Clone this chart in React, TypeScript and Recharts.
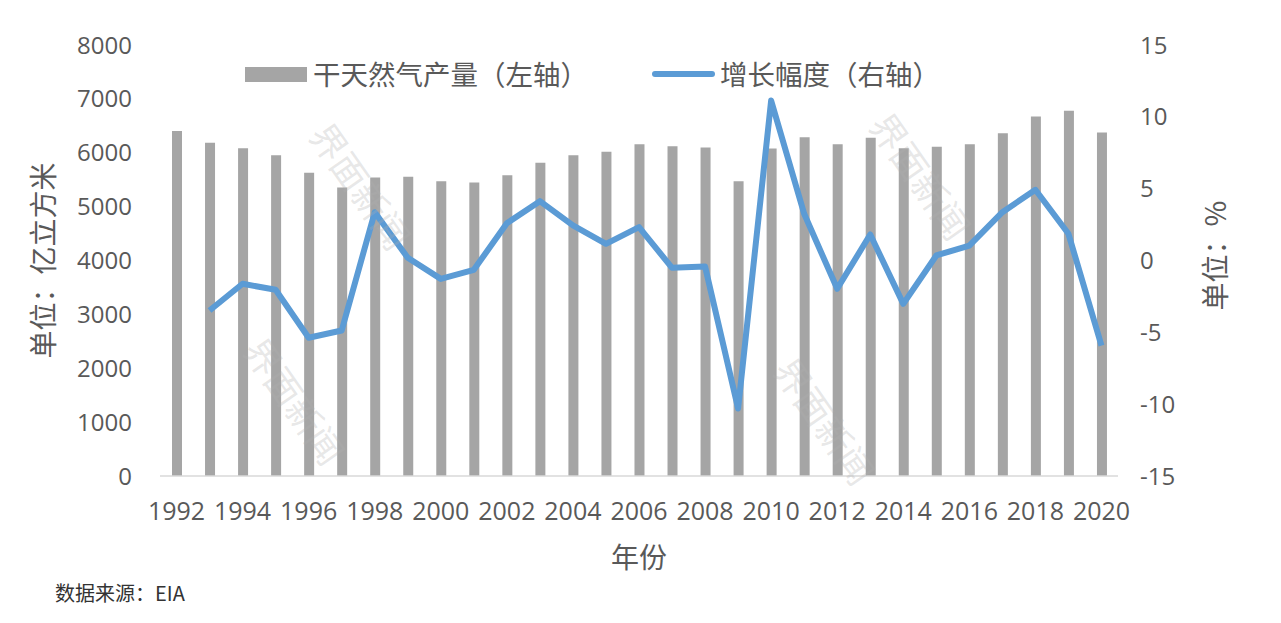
import React from 'react';
import { ComposedChart, Bar, Line, XAxis, YAxis } from 'recharts';

const years = [
  '1992', '1993', '1994', '1995', '1996', '1997', '1998', '1999', '2000', '2001',
  '2002', '2003', '2004', '2005', '2006', '2007', '2008', '2009', '2010', '2011',
  '2012', '2013', '2014', '2015', '2016', '2017', '2018', '2019', '2020',
];
// 干天然气产量（亿立方米）
const output = [
  6406, 6184, 6085, 5955, 5627, 5356, 5542, 5553, 5473, 5448,
  5584, 5813, 5955, 6017, 6160, 6122, 6098, 5473, 6079, 6289,
  6160, 6277, 6085, 6110, 6160, 6364, 6673, 6778, 6377,
];
// 增长幅度（%）
const growth: (number | null)[] = [
  null, -3.48, -1.62, -2.04, -5.38, -4.87, 3.36, 0.19, -1.28, -0.65,
  2.6, 4.13, 2.44, 1.16, 2.32, -0.51, -0.42, -10.3, 11.13, 3.25,
  -1.97, 1.81, -3.02, 0.35, 1.04, 3.36, 4.92, 1.86, -5.92,
];
const leftTicks = [0, 1000, 2000, 3000, 4000, 5000, 6000, 7000, 8000];
const rightTicks = [-15, -10, -5, 0, 5, 10, 15];

const data = years.map((y, i) => ({ year: y, output: output[i], growth: growth[i] }));

const FONT = '"Open Sans", "Noto Sans CJK SC", sans-serif';
const CJK = '"Noto Sans CJK SC", sans-serif';
const GREY_TEXT = '#595959';

const watermarks = [
  { x: 362, y: 185 },
  { x: 296, y: 400 },
  { x: 922, y: 175 },
  { x: 826, y: 420 },
];

function LegendBox() {
  return (
    <div style={{ position: 'absolute', left: 0, top: 58, width: 1281, height: 40, fontFamily: CJK, fontSize: 27.5, color: GREY_TEXT }}>
      <div style={{ position: 'absolute', left: 245, top: 9, width: 62, height: 15, background: '#a5a5a5' }} />
      <div style={{ position: 'absolute', left: 313, top: -5, whiteSpace: 'nowrap' }}>干天然气产量（左轴）</div>
      <div style={{ position: 'absolute', left: 652, top: 13, width: 63, height: 6, borderRadius: 3, background: '#5b9bd5' }} />
      <div style={{ position: 'absolute', left: 720, top: -5, whiteSpace: 'nowrap' }}>增长幅度（右轴）</div>
    </div>
  );
}

export default function App() {
  return (
    <div style={{ position: 'absolute', left: 0, top: 0, width: 1281, height: 623, background: '#fff' }}>
      <ComposedChart
        width={1281}
        height={623}
        data={data}
        margin={{ top: 45, right: 0, bottom: 0, left: 0 }}
        barSize={10}
      >
        <XAxis
          dataKey="year"
          interval={1}
          height={147}
          tickSize={0}
          tickMargin={26}
          axisLine={{ stroke: '#d9d9d9', strokeWidth: 1.5 }}
          tickLine={false}
          tick={{ fill: GREY_TEXT, fontSize: 25, fontFamily: FONT }}
          label={{ value: '年份', position: 'insideTop', offset: 72, fill: GREY_TEXT, fontSize: 28, fontFamily: CJK }}
        />
        <YAxis
          yAxisId="left"
          width={160}
          domain={[0, 8000]}
          ticks={leftTicks}
          tickSize={0}
          tickMargin={28}
          axisLine={false}
          tickLine={false}
          tick={{ fill: GREY_TEXT, fontSize: 24, fontFamily: FONT }}
          label={(props: any) => {
            const vb = props.viewBox;
            const cx = 42;
            const cy = vb.y + vb.height / 2;
            return (
              <text x={cx} y={cy} transform={`rotate(-90 ${cx} ${cy})`} textAnchor="middle" dominantBaseline="central"
                fill={GREY_TEXT} fontSize={28} fontFamily={CJK}>单位：亿立方米</text>
            );
          }}
        />
        <YAxis
          yAxisId="right"
          orientation="right"
          width={163}
          domain={[-15, 15]}
          ticks={rightTicks}
          tickSize={0}
          tickMargin={22}
          axisLine={false}
          tickLine={false}
          tick={{ fill: GREY_TEXT, fontSize: 24, fontFamily: FONT, textAnchor: 'start' }}
          label={(props: any) => {
            const vb = props.viewBox;
            const cx = 1214;
            const cy = vb.y + vb.height / 2 - 5;
            return (
              <text x={cx} y={cy} transform={`rotate(-90 ${cx} ${cy})`} textAnchor="middle" dominantBaseline="central"
                fill={GREY_TEXT} fontSize={28} fontFamily={CJK}>单位：%</text>
            );
          }}
        />
        <Bar yAxisId="left" dataKey="output" fill="#a5a5a5" isAnimationActive={false} />
        <Line
          yAxisId="right"
          dataKey="growth"
          stroke="#5b9bd5"
          strokeWidth={6}
          dot={false}
          activeDot={false}
          strokeLinejoin="round"
          isAnimationActive={false}
        />
      </ComposedChart>
      <LegendBox />
      <svg width={1281} height={623} style={{ position: 'absolute', left: 0, top: 0, pointerEvents: 'none' }}>
        {watermarks.map((w, i) => (
          <text key={i} x={w.x} y={w.y} transform={`rotate(55 ${w.x} ${w.y})`} textAnchor="middle" dominantBaseline="central"
            fill="#b0b0b0" fillOpacity={0.3} fontSize={36} fontFamily={CJK}>界面新闻</text>
        ))}
      </svg>
      <div style={{ position: 'absolute', left: 55, top: 578, fontFamily: CJK, fontSize: 20, color: '#333' }}>数据来源：EIA</div>
    </div>
  );
}
